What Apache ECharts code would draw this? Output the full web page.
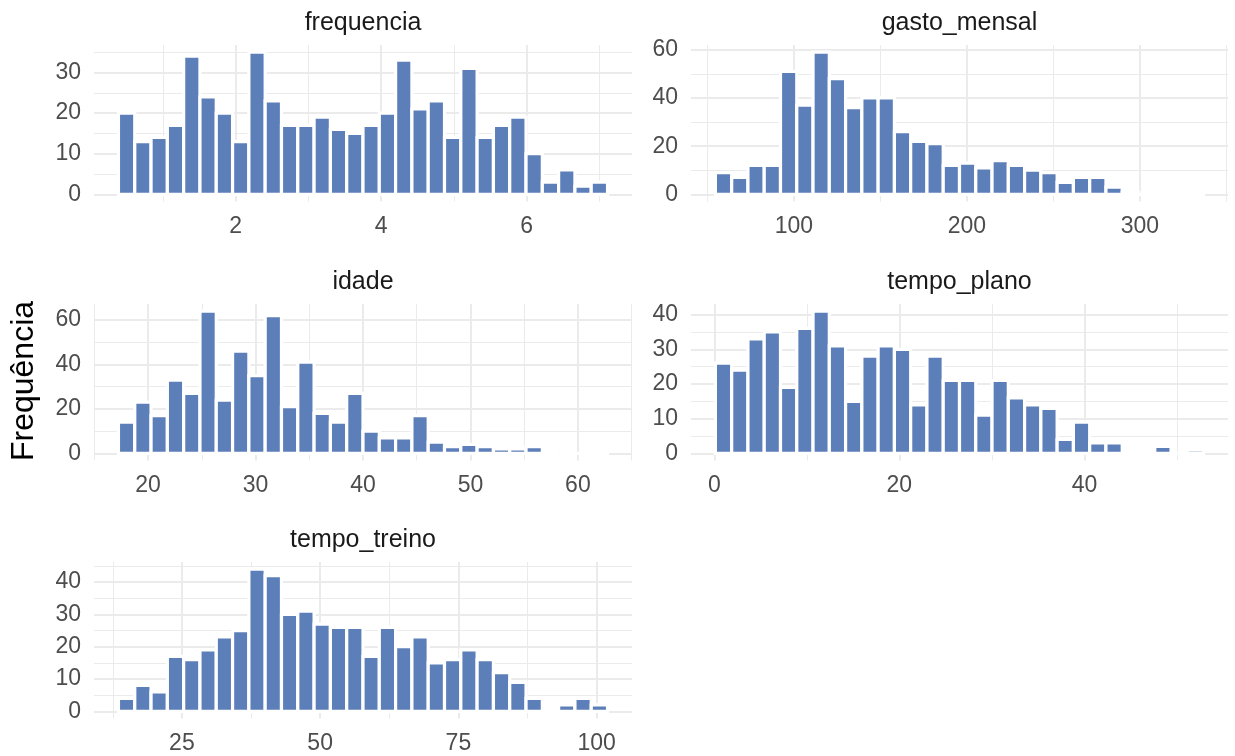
<!DOCTYPE html>
<html>
<head>
<meta charset="utf-8">
<script src="https://cdn.jsdelivr.net/npm/echarts@6/dist/echarts.min.js"></script>
<style>
html,body{margin:0;padding:0;background:#fff;}
#chart{width:1235px;height:756px;}
</style>
</head>
<body>
<div id="chart"></div>
<script>
// ---- data ----
const panelNames = ['frequencia', 'gasto_mensal', 'idade', 'tempo_plano', 'tempo_treino'];
const dataMin = [0.5, 59.3, 18, 1, 15];
const dataMax = [7.0, 332.1, 62, 52, 100.5];

const countsFrequencia = [20,13,14,17,34,24,20,13,35,23,17,17,19,16,15,17,20,33,21,23,14,31,14,17,19,10,3,6,2,3];
const countsGasto      = [9,7,12,12,51,37,59,48,36,40,40,26,22,21,12,13,11,14,12,10,9,5,7,7,3,1,0,0,0,1];
const countsIdade      = [14,23,17,33,27,64,24,46,35,62,21,41,18,14,27,10,7,7,17,5,3,4,3,2,2,3,0,0,0,1];
const countsPlano      = [26,24,33,35,19,36,41,31,15,28,31,30,14,28,21,21,11,21,16,14,13,4,9,3,3,0,0,2,0,1];
const countsTreino     = [4,8,6,17,16,19,23,25,44,42,30,31,27,26,26,17,26,20,23,15,16,19,16,12,9,4,0,2,4,2];

const xMajorTicks = [[2,4,6],[100,200,300],[20,30,40,50,60],[0,20,40],[25,50,75,100]];
const xMinorTicks = [[1,3,5,7],[50,150,250,350],[15,25,35,45,55,65],[10,30,50],[12.5,37.5,62.5,87.5]];
const yMajorTicks = [[0,10,20,30],[0,20,40,60],[0,20,40,60],[0,10,20,30,40],[0,10,20,30,40]];
const yMinorTicks = [[5,15,25,35],[10,30,50],[10,30,50],[5,15,25,35],[5,15,25,35,45]];

const yTitle = 'Frequência';

// ---- layout / style ----
const allCounts = [countsFrequencia, countsGasto, countsIdade, countsPlano, countsTreino];
const FONT = '"Liberation Sans", Arial, Helvetica, sans-serif';
const colLeft = [94, 691];
const colWidth = [538, 537];
const rowTop = [45, 304, 562];
const rowHeight = 156.5;
const BAR = '#5c7fb9';
const GRID = '#EBEBEB';
const TICKC = '#4D4D4D';
const TICKSIZE = 23;

const grids = [], xAxes = [], yAxes = [], series = [], graphics = [];

panelNames.forEach((name, i) => {
  const row = Math.floor(i / 2), col = i % 2;
  const counts = allCounts[i];
  const nb = counts.length;
  const w = (dataMax[i] - dataMin[i]) / (nb - 1);
  const start = dataMin[i] - w / 2;
  const end = dataMax[i] + w / 2;
  const xlo = start - 0.05 * (end - start);
  const xhi = end + 0.05 * (end - start);
  const cmax = Math.max.apply(null, counts);
  const ylo = -0.05 * cmax, yhi = 1.05 * cmax;

  grids.push({left: colLeft[col], top: rowTop[row], width: colWidth[col], height: rowHeight, containLabel: false, outerBoundsMode: 'none'});

  const gi = grids.length - 1;
  xAxes.push({
    gridIndex: gi, type: 'value', min: xlo, max: xhi, position: 'bottom',
    axisLine: {show: false}, axisTick: {show: false, customValues: xMajorTicks[i]},
    axisLabel: {customValues: xMajorTicks[i], fontSize: TICKSIZE, color: TICKC, fontFamily: FONT, margin: 14, showMinLabel: true, showMaxLabel: true},
    splitLine: {show: true, lineStyle: {color: GRID, width: 2}}
  });
  xAxes.push({
    gridIndex: gi, type: 'value', min: xlo, max: xhi, position: 'bottom',
    axisLine: {show: false}, axisTick: {show: false, customValues: xMinorTicks[i]},
    axisLabel: {show: false, customValues: xMinorTicks[i]},
    splitLine: {show: true, lineStyle: {color: GRID, width: 1}}
  });
  yAxes.push({
    gridIndex: gi, type: 'value', min: ylo, max: yhi, position: 'left',
    axisLine: {show: false}, axisTick: {show: false, customValues: yMajorTicks[i]},
    axisLabel: {customValues: yMajorTicks[i], fontSize: TICKSIZE, color: TICKC, fontFamily: FONT, margin: 13, showMinLabel: true, showMaxLabel: true},
    splitLine: {show: true, lineStyle: {color: GRID, width: 2}}
  });
  yAxes.push({
    gridIndex: gi, type: 'value', min: ylo, max: yhi, position: 'left',
    axisLine: {show: false}, axisTick: {show: false, customValues: yMinorTicks[i]},
    axisLabel: {show: false, customValues: yMinorTicks[i]},
    splitLine: {show: true, lineStyle: {color: GRID, width: 1}}
  });

  const binData = counts.map((c, k) => [start + k * w, start + (k + 1) * w, c]);
  series.push({
    type: 'custom',
    xAxisIndex: 2 * gi, yAxisIndex: 2 * gi,
    data: binData,
    silent: true,
    renderItem: function (params, api) {
      const p0 = api.coord([api.value(0), api.value(2)]);
      const p1 = api.coord([api.value(1), 0]);
      return {
        type: 'rect',
        shape: {x: p0[0], y: p0[1], width: p1[0] - p0[0], height: p1[1] - p0[1]},
        style: {fill: BAR, stroke: '#ffffff', lineWidth: 3.2}
      };
    }
  });

  graphics.push({
    type: 'text',
    x: colLeft[col] + colWidth[col] / 2,
    y: rowTop[row] - 22,
    style: {text: name, fill: '#1A1A1A', fontSize: 25, fontFamily: FONT, align: 'center', verticalAlign: 'middle'}
  });
});

graphics.push({
  type: 'text', x: 24, y: 381, rotation: Math.PI / 2,
  style: {text: yTitle, fill: '#000', fontSize: 32, fontFamily: FONT, align: 'center', verticalAlign: 'middle'}
});

const chart = echarts.init(document.getElementById('chart'), null, {renderer: 'canvas'});
chart.setOption({
  backgroundColor: '#ffffff',
  animation: false,
  grid: grids,
  xAxis: xAxes,
  yAxis: yAxes,
  series: series,
  graphic: graphics
});
</script>
</body>
</html>
